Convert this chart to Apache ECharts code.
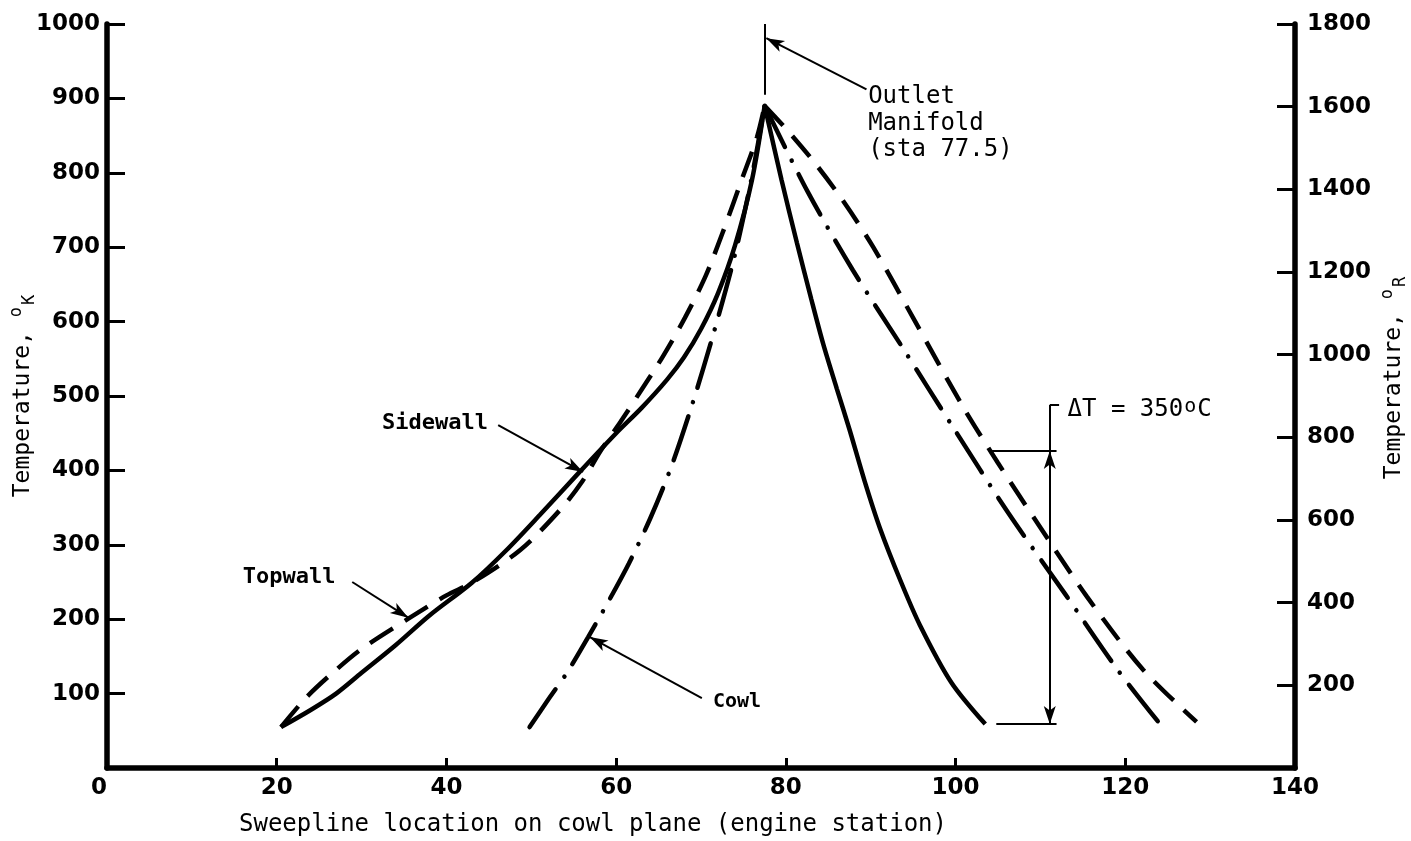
<!DOCTYPE html>
<html><head><meta charset="utf-8">
<script src="https://cdn.jsdelivr.net/npm/echarts@6/dist/echarts.min.js"></script>
<style>html,body{margin:0;padding:0;background:#fff}#c{width:1411px;height:841px}</style>
</head><body><div id="c"></div>
<script>
// ---- data (engine station, temperature K) ----
const sidewallLeftX = [20.5, 24, 27, 30, 34, 38, 43, 47, 51, 55.7, 60, 63, 66, 68, 70, 72, 74, 76, 77.5];
const sidewallLeftT = [55, 78, 100, 128, 165, 205, 249, 292, 340, 398, 450, 484, 522, 552, 590, 638, 702, 790, 890];
const sidewallRightX = [77.5, 79.5, 81.3, 83, 84.4, 86, 87.5, 89.3, 91.1, 93.5, 95.8, 99.5, 103.5];
const sidewallRightT = [890, 790, 706, 630, 570, 510, 455, 385, 322, 252, 192, 115, 59];

const topwallLeftX = [20.5, 23.5, 26.6, 30, 35.7, 40, 43, 48.7, 53.4, 56, 58.1, 60.5, 62.8, 65.5, 68.1, 70.5, 72.5, 75, 76.6, 77.5];
const topwallLeftT = [55, 95, 128, 160, 202, 232, 249, 293, 347, 385, 425, 465, 505, 553, 605, 660, 718, 797, 848, 890];
const topwallRightX = [77.5, 80.5, 83.5, 86.7, 90.3, 95, 100.9, 105, 109.6, 115.5, 122.1, 128.4];
const topwallRightT = [890, 853, 812, 763, 700, 605, 485, 410, 330, 230, 132, 62];

const cowlLeftX = [49.8, 52, 54.2, 56.7, 59, 61.5, 64, 66.5, 69, 71.5, 74, 76, 77.5];
const cowlLeftT = [55, 92, 128, 176, 222, 275, 335, 405, 490, 585, 690, 795, 890];
const cowlRightX = [77.5, 82.6, 87.9, 93.7, 99.7, 106.2, 112.9, 119.1, 124.1];
const cowlRightT = [890, 774, 669, 566, 458, 343, 234, 132, 59];

const xTicks = {min: 0, max: 140, step: 20};
const kTicks = {min: 0, max: 1000, step: 100};
const rTicks = {min: 0, max: 1800, step: 200};

// annotation anchors in data units (station, K)
const outletStation = 77.5;
const deltaTStation = 111.1;
const deltaTTop = 426, deltaTBottom = 59, deltaTBracket = 488;

const zip = (xs, ys) => xs.map((x, i) => [x, ys[i]]);

const BLACK = '#000';
const mono = 'DejaVu Sans Mono';
const sans = 'DejaVu Sans';

function curve(name, xs, ys, type, cap) {
  return {
    name, type: 'line', data: zip(xs, ys), showSymbol: false, smooth: 0.3,
    silent: true, animation: false, z: 3,
    lineStyle: {color: BLACK, width: 4.5, type: type, cap: cap || 'butt'}
  };
}
const dashed = [27, 14];
const dashDot = [46, 15, 0.1, 15];

function seg(a, b, arrow) {
  return [
    {coord: a, symbol: 'none'},
    {coord: b, symbol: arrow ? 'arrow' : 'none', symbolSize: [9, 18]}
  ];
}
function txt(coord, text, size, weight) {
  return {coord, symbol: 'circle', symbolSize: 0,
    label: {show: true, position: 'right', distance: 0, formatter: text,
      color: BLACK, fontSize: size, fontFamily: mono, fontWeight: weight || 'normal', lineHeight: 26.5,
      rich: {s: {fontSize: 20, fontFamily: mono, color: BLACK, verticalAlign: 'top', lineHeight: 8, padding: [0, 1, 0, 1]}}}};
}

const annot = {
  type: 'line', data: [], silent: true, animation: false, z: 4,
  markLine: {
    silent: true, animation: false, symbol: ['none', 'none'],
    label: {show: false},
    lineStyle: {color: BLACK, width: 2, type: 'solid'},
    data: [
      seg([outletStation, 1000], [outletStation, 905], false),
      seg([89.5, 912], [77.7, 981], true),
      seg([46.1, 461], [56.1, 398], true),
      seg([28.9, 250], [35.5, 202], true),
      seg([70.1, 94], [56.9, 176], true),
      seg([deltaTStation, deltaTBracket], [deltaTStation + 1.1, deltaTBracket], false),
      seg([deltaTStation, deltaTBracket], [deltaTStation, deltaTTop], false),
      seg([104.3, deltaTTop], [deltaTStation + 0.8, deltaTTop], false),
      seg([deltaTStation, 230], [deltaTStation, deltaTTop], true),
      seg([deltaTStation, 230], [deltaTStation, deltaTBottom], true),
      seg([104.8, deltaTBottom], [deltaTStation + 0.8, deltaTBottom], false)
    ]
  },
  markPoint: {
    silent: true, animation: false,
    data: [
      txt([89.7, 866], 'Outlet\nManifold\n(sta 77.5)', 24),
      txt([32.4, 464], 'Sidewall', 22, 'bold'),
      txt([16.0, 257], 'Topwall', 22, 'bold'),
      txt([71.4, 89], 'Cowl', 20, 'bold'),
      txt([113.2, 481], 'ΔT = 350{s|o}C', 24)
    ]
  }
};

const tickLabel = {color: BLACK, fontSize: 23, fontWeight: 'bold', fontFamily: sans};
const nameRich = {
  s: {fontSize: 17, fontFamily: mono, color: BLACK, verticalAlign: 'top', lineHeight: 11, padding: [0, 2, 0, 0]},
  d: {fontSize: 17, fontFamily: mono, color: BLACK, verticalAlign: 'bottom', lineHeight: 12}
};

const option = {
  backgroundColor: '#fff',
  animation: false,
  grid: {left: 107, right: 116, top: 24, bottom: 73, containLabel: false, outerBoundsMode: 'none'},
  xAxis: {
    type: 'value', min: xTicks.min, max: xTicks.max, interval: xTicks.step,
    axisLine: {show: true, lineStyle: {color: BLACK, width: 5.5}},
    axisTick: {show: true, inside: true, length: 10, lineStyle: {color: BLACK, width: 3}},
    axisLabel: Object.assign({margin: 9, alignMinLabel: 'right'}, tickLabel),
    splitLine: {show: false},
    name: 'Sweepline location on cowl plane (engine station)',
    nameLocation: 'middle', nameGap: 45, nameMoveOverlap: false,
    nameTextStyle: {color: BLACK, fontSize: 24, fontFamily: mono, padding: [0, 216, 0, 0]}
  },
  yAxis: [
    {
      type: 'value', position: 'left', min: kTicks.min, max: kTicks.max, interval: kTicks.step,
      axisLine: {show: true, lineStyle: {color: BLACK, width: 5.5}},
      axisTick: {show: true, inside: true, length: 18, lineStyle: {color: BLACK, width: 3}},
      axisLabel: Object.assign({margin: 7, formatter: v => v === 0 ? '' : String(v)}, tickLabel),
      splitLine: {show: false},
      name: 'Temperature, {s|o}{d|K}', nameLocation: 'middle', nameRotate: 90, nameGap: 69,
      nameMoveOverlap: false,
      nameTextStyle: {color: BLACK, fontSize: 23, fontFamily: mono, lineHeight: 30, rich: nameRich}
    },
    {
      type: 'value', position: 'right', min: rTicks.min, max: rTicks.max, interval: rTicks.step,
      alignTicks: false,
      axisLine: {show: true, lineStyle: {color: BLACK, width: 5.5}},
      axisTick: {show: true, inside: true, length: 18, lineStyle: {color: BLACK, width: 3}},
      axisLabel: Object.assign({margin: 12, formatter: v => v === 0 ? '' : String(v)}, tickLabel),
      splitLine: {show: false},
      name: 'Temperature, {s|o}{d|R}', nameLocation: 'middle', nameRotate: 90, nameGap: 84,
      nameMoveOverlap: false,
      nameTextStyle: {color: BLACK, fontSize: 23, fontFamily: mono, lineHeight: 30, rich: nameRich, padding: [0, 0, 0, 36]}
    }
  ],
  series: [
    curve('Sidewall', sidewallLeftX, sidewallLeftT, 'solid'),
    curve('Sidewall ', sidewallRightX, sidewallRightT, 'solid'),
    curve('Topwall', topwallLeftX, topwallLeftT, dashed),
    curve('Topwall ', topwallRightX, topwallRightT, dashed),
    curve('Cowl', cowlLeftX, cowlLeftT, dashDot, 'round'),
    curve('Cowl ', cowlRightX, cowlRightT, dashDot, 'round'),
    annot
  ]
};
const chart = echarts.init(document.getElementById('c'), null, {renderer: 'canvas'});
chart.setOption(option);
</script></body></html>
